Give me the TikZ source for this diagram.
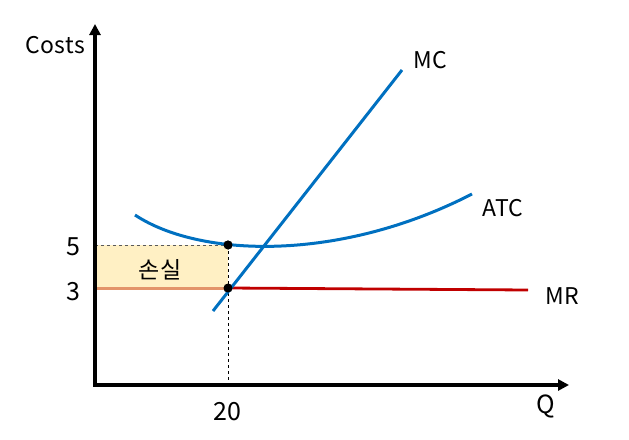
\documentclass[tikz,border=0pt]{standalone}
\usepackage{fontspec}
\setmainfont{Noto Sans CJK KR}
\usetikzlibrary{arrows.meta}
\definecolor{mcblue}{HTML}{0070C0}
\definecolor{mrred}{HTML}{C00000}
\definecolor{lossfill}{HTML}{FFF0C4}
\definecolor{lossedge}{HTML}{E3946A}
\begin{document}
\begin{tikzpicture}[x=1pt,y=-1pt,
  axis/.style={line width=3.2pt,-{Triangle[length=11pt,width=11pt]}},
  curve/.style={line width=3pt,mcblue},
  lbl/.style={font=\fontsize{23}{25}\selectfont\addfontfeatures{LetterSpace=2},inner sep=0pt},
  dot/.style={circle,fill=black,inner sep=0pt,minimum size=9pt}]
\useasboundingbox (0,0) rectangle (629,439);
% loss rectangle
\coordinate (o) at (95,385);
\coordinate (r5) at (95,245);
\coordinate (r3) at (95,288);
\node[dot] (a) at (228,245) {};
\node[dot] (b) at (228,288) {};
\coordinate (q20) at (228,385);
\fill[lossfill] (r5) rectangle (b.center);
\draw[gray!70!black,dashed,line width=0.8pt] (r5) -- (a.center);
\draw[dashed,line width=1pt] (a.center) -- (q20);
\draw[lossedge,line width=3pt] (r3) -- (b.center);
\node[lbl] (loss) at (160,270) {손실};
% MR
\coordinate (mrend) at (528,290);
\draw[mrred,line width=2.8pt] (b.center) -- (mrend);
% ATC
\coordinate (atcs) at (135,215);
\coordinate (atce) at (472,194);
\draw[curve] (atcs) .. controls (200,258) and (340,262) .. (atce);
% MC
\coordinate (mcs) at (213,311);
\coordinate (mce) at (402,70);
\draw[curve] (mcs) -- (mce);
% redraw dots on top
\node[dot] at (a) {};
\node[dot] at (b) {};
% axes
\coordinate (ytop) at (95,24);
\coordinate (xend) at (569,385);
\draw[axis] (95,386.6) -- (ytop);
\draw[axis] (93.4,385) -- (xend);
% labels
\node[lbl] (costs) at (55,45) {Costs};
\node[lbl,font=\fontsize{25}{27}\selectfont] (q) at (546,406) {Q};
\node[lbl,font=\fontsize{25}{27}\selectfont] (t20) at (227,412) {20};
\node[lbl,font=\fontsize{25}{27}\selectfont] (t5) at (73,247) {5};
\node[lbl,font=\fontsize{25}{27}\selectfont] (t3) at (73,292) {3};
\node[lbl] (mc) at (430,60) {MC};
\node[lbl] (atc) at (503,208) {ATC};
\node[lbl] (mr) at (562,296) {MR};
\end{tikzpicture}
\end{document}
